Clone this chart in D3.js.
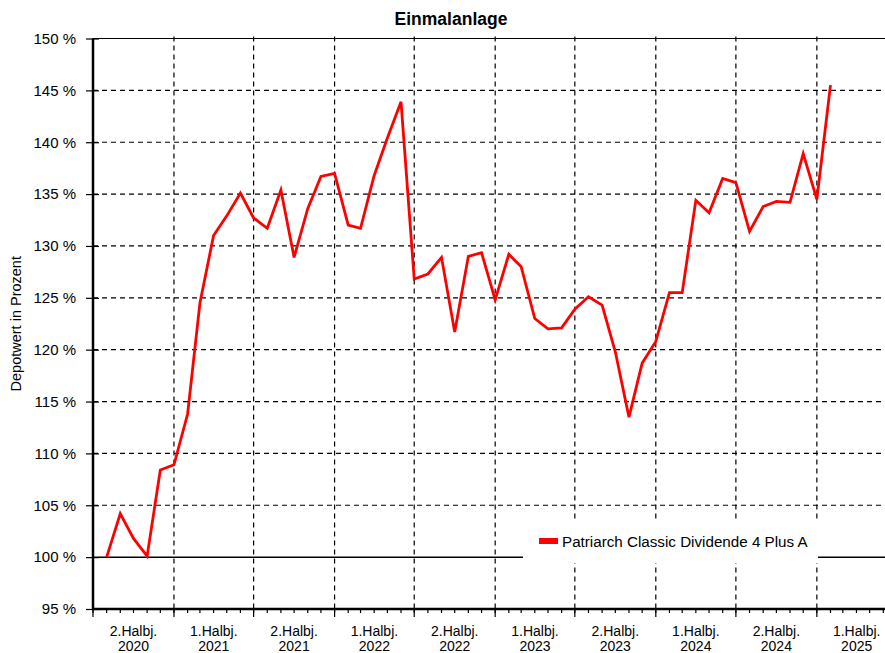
<!DOCTYPE html>
<html>
<head>
<meta charset="utf-8">
<style>
  body { margin: 0; background: #fff; }
  svg { display: block; font-family: "Liberation Sans", Arial, sans-serif; }
  .grid line { stroke: #000; stroke-width: 1.2px; stroke-dasharray: 5,4; }
</style>
</head>
<body>
<svg id="chart" width="885" height="653"></svg>
<script src="https://d3js.org/d3.v7.min.js"></script>
<script>
// monthly values of the one series
var months = [
  "2020-08","2020-09","2020-10","2020-11","2020-12",
  "2021-01","2021-02","2021-03","2021-04","2021-05","2021-06","2021-07","2021-08","2021-09","2021-10","2021-11","2021-12",
  "2022-01","2022-02","2022-03","2022-04","2022-05","2022-06","2022-07","2022-08","2022-09","2022-10","2022-11","2022-12",
  "2023-01","2023-02","2023-03","2023-04","2023-05","2023-06","2023-07","2023-08","2023-09","2023-10","2023-11","2023-12",
  "2024-01","2024-02","2024-03","2024-04","2024-05","2024-06","2024-07","2024-08","2024-09","2024-10","2024-11","2024-12",
  "2025-01","2025-02"
];
var values = [
  100.0, 104.2, 101.8, 100.1, 108.4,
  108.9, 113.8, 124.5, 131.0, 132.9, 135.1, 132.7, 131.7, 135.4, 128.9, 133.6, 136.7,
  137.0, 132.0, 131.7, 136.8, 140.4, 143.9, 126.8, 127.3, 128.9, 121.7, 129.0, 129.35,
  124.8, 129.2, 128.0, 123.0, 122.0, 122.1, 123.9, 125.1, 124.3, 119.8, 113.5, 118.7,
  120.8, 125.5, 125.5, 134.4, 133.2, 136.5, 136.1, 131.4, 133.8, 134.3, 134.2, 138.9,
  134.5, 145.5
];
var halfYears = ["2020-07","2021-01","2021-07","2022-01","2022-07","2023-01","2023-07","2024-01","2024-07","2025-01","2025-07"];
var halfLabels = [
  ["2.Halbj.","2020"],["1.Halbj.","2021"],["2.Halbj.","2021"],["1.Halbj.","2022"],["2.Halbj.","2022"],
  ["1.Halbj.","2023"],["2.Halbj.","2023"],["1.Halbj.","2024"],["2.Halbj.","2024"],["1.Halbj.","2025"]
];
var yTicks = [95, 100, 105, 110, 115, 120, 125, 130, 135, 140, 145, 150];
var seriesName = "Patriarch Classic Dividende 4 Plus A";

var parseMonth = d3.timeParse("%Y-%m");
var data = months.map((m, i) => ({ date: parseMonth(m), value: values[i] }));
var halfDates = halfYears.map(parseMonth);

var plotLeft = 93, plotTop = 38.5, plotBottom = 609, plotRight = 896.5;

var x = d3.scaleTime().domain([halfDates[0], halfDates[halfDates.length - 1]]).range([plotLeft, plotRight]);
var y = d3.scaleLinear().domain([95, 150]).range([plotBottom, plotTop]);

var svg = d3.select("#chart");

// title
svg.append("text")
  .attr("x", 451).attr("y", 25)
  .attr("text-anchor", "middle")
  .attr("font-size", "17.5px").attr("font-weight", "bold")
  .text("Einmalanlage");

// y axis title
svg.append("text")
  .attr("transform", "translate(21," + ((plotTop + plotBottom) / 2) + ") rotate(-90)")
  .attr("text-anchor", "middle")
  .attr("font-size", "14.5px")
  .text("Depotwert in Prozent");

// horizontal grid
svg.append("g").attr("class", "grid")
  .selectAll("line")
  .data(yTicks.filter(v => v > 100 && v < 150))
  .enter().append("line")
  .attr("x1", plotLeft).attr("x2", 885)
  .attr("y1", d => y(d)).attr("y2", d => y(d));

// vertical grid
svg.append("g").attr("class", "grid")
  .selectAll("line")
  .data(halfDates.slice(1, -1))
  .enter().append("line")
  .attr("x1", d => x(d)).attr("x2", d => x(d))
  .attr("y1", plotTop - 2).attr("y2", plotBottom);

// 100 % base line and top border
svg.append("line")
  .attr("x1", plotLeft).attr("x2", 885)
  .attr("y1", y(100)).attr("y2", y(100))
  .attr("stroke", "#000").attr("stroke-width", 1.5);
svg.append("line")
  .attr("x1", plotLeft).attr("x2", 885)
  .attr("y1", y(150)).attr("y2", y(150))
  .attr("stroke", "#000").attr("stroke-width", 1.2);

// y axis
var yAxis = svg.append("g")
  .attr("transform", "translate(" + plotLeft + ",0)")
  .call(d3.axisLeft(y).tickValues(yTicks).tickSize(7).tickPadding(10).tickFormat(d => d + " %"));
yAxis.select(".domain").remove();
yAxis.selectAll(".tick line").attr("x2", -7).attr("x1", 6).attr("stroke-width", 1.2);
yAxis.selectAll("text").attr("font-size", "15px").attr("font-family", "Liberation Sans, Arial, sans-serif").attr("fill", "#000");

// x axis: monthly minor ticks + half-year major ticks
var xAxisG = svg.append("g").attr("transform", "translate(0," + plotBottom + ")");
xAxisG.selectAll("line.minor")
  .data(x.ticks(d3.timeMonth.every(1)))
  .enter().append("line")
  .attr("class", "minor")
  .attr("x1", d => x(d)).attr("x2", d => x(d))
  .attr("y1", 0).attr("y2", 4)
  .attr("stroke", "#000").attr("stroke-width", 1.2);
xAxisG.selectAll("line.major")
  .data(halfDates.slice(0, -1))
  .enter().append("line")
  .attr("class", "major")
  .attr("x1", d => x(d)).attr("x2", d => x(d))
  .attr("y1", 0).attr("y2", 8)
  .attr("stroke", "#000").attr("stroke-width", 1.2);

var labelG = xAxisG.selectAll("text.half")
  .data(halfLabels)
  .enter().append("text")
  .attr("class", "half")
  .attr("text-anchor", "middle")
  .attr("font-size", "14px")
  .attr("transform", (d, i) => "translate(" + ((x(halfDates[i]) + x(halfDates[i + 1])) / 2) + ",0)");
labelG.append("tspan").attr("x", 0).attr("y", 27).text(d => d[0]);
labelG.append("tspan").attr("x", 0).attr("y", 42).text(d => d[1]);

// axis lines
svg.append("line")
  .attr("x1", plotLeft).attr("x2", plotLeft).attr("y1", plotTop).attr("y2", plotBottom + 1)
  .attr("stroke", "#000").attr("stroke-width", 2.5);
svg.append("line")
  .attr("x1", plotLeft - 1).attr("x2", 885).attr("y1", plotBottom).attr("y2", plotBottom)
  .attr("stroke", "#000").attr("stroke-width", 2.5);

// legend box
var legend = svg.append("g").attr("transform", "translate(523,520)");
legend.append("rect").attr("width", 295).attr("height", 43).attr("fill", "#fff");
legend.append("rect").attr("x", 16).attr("y", 18).attr("width", 19).attr("height", 6).attr("fill", "#ff0000");
legend.append("text").attr("x", 39).attr("y", 26.5).attr("font-size", "15.2px").text(seriesName);

// series line
var line = d3.line().x(d => x(d.date)).y(d => y(d.value));
svg.append("path")
  .datum(data)
  .attr("d", line)
  .attr("fill", "none")
  .attr("stroke", "#ff0000")
  .attr("stroke-width", 2.8)
  .attr("stroke-linejoin", "miter");
</script>
</body>
</html>
